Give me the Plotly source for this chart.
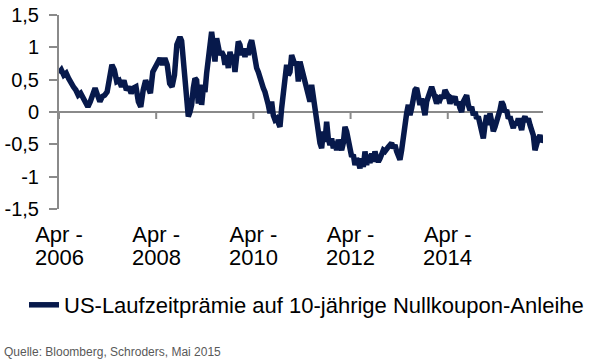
import plotly.graph_objects as go

# --- data ---
# segment A: early part, sampled more coarsely
seg_a_start = 2006.25
seg_a_step = 0.0495
seg_a_vals = [0.60, 0.65, 0.57, 0.60, 0.52, 0.44, 0.39, 0.34, 0.26, 0.29,
              0.21, 0.13, 0.08, 0.16, 0.29, 0.37, 0.26, 0.16, 0.24, 0.26,
              0.31, 0.57, 0.73, 0.65, 0.47, 0.49, 0.39, 0.49, 0.34, 0.39,
              0.29, 0.37, 0.39, 0.16, 0.08, 0.34, 0.49, 0.39, 0.29, 0.62,
              0.70, 0.78, 0.83, 0.73, 0.83, 0.73, 0.44, 0.39, 0.57, 1.04]

# segment B: 2008 - 2011
seg_b_start = 2008.705
seg_step = 0.0343
seg_b_vals = [1.14, 1.16, 1.10, 0.83, 0.47, 0.16, -0.07, 0.00, 0.11, 0.37,
              0.52, 0.49, 0.13, 0.42, 0.11, 0.37, 0.31, 0.60, 0.88, 1.19,
              1.24, 1.04, 0.78, 1.14, 0.98, 0.88, 0.93, 0.88, 0.73, 0.88,
              0.68, 0.93, 0.83, 0.88, 0.62, 0.93, 1.09, 1.04, 0.88, 0.98,
              0.85, 0.98, 0.88, 1.04, 1.11, 0.98, 0.78, 0.68, 0.62, 0.52,
              0.44, 0.37, 0.31, 0.24, 0.11, -0.02, 0.16, -0.05, -0.12, -0.10,
              -0.20, -0.23, 0.06, 0.31, 0.68, 0.73, 0.57, 0.62, 0.88, 0.78]

# segment C: 2011 - 2013
seg_c_vals = [0.73, 0.78, 0.47, 0.78, 0.68, 0.57, 0.44, 0.37, 0.24, 0.16,
              0.42, 0.24, 0.11, -0.10, -0.36, -0.48, -0.56, -0.30, -0.46, -0.15,
              -0.41, -0.51, -0.41, -0.56, -0.46, -0.59, -0.43, -0.51, -0.59, -0.48,
              -0.23, -0.30, -0.46, -0.61, -0.69, -0.66, -0.82, -0.72, -0.77, -0.87,
              -0.72, -0.85, -0.61, -0.82, -0.66, -0.79, -0.64, -0.77, -0.61, -0.72,
              -0.77, -0.72, -0.66, -0.59, -0.61, -0.56, -0.54, -0.51, -0.48, -0.56,
              -0.51, -0.61, -0.69, -0.74, -0.59, -0.36, -0.25, -0.02, 0.11, -0.05,
              0.06, 0.26]

# segment D: 2013 - end
seg_d_vals = [0.34, 0.37, 0.16, 0.11, 0.21, 0.00, -0.05, 0.16, 0.24, 0.34,
              0.39, 0.31, 0.16, 0.13, 0.21, 0.19, 0.26, 0.21, 0.34, 0.29,
              0.24, 0.13, 0.21, 0.19, 0.24, 0.11, 0.16, 0.06, 0.00, 0.16,
              0.24, 0.26, 0.11, 0.03, 0.08, -0.05, 0.00, -0.10, -0.07, -0.20,
              -0.30, -0.41, -0.20, -0.05, -0.20, -0.02, -0.15, -0.30, -0.23, -0.15,
              -0.07, 0.03, 0.16, 0.11, 0.00, 0.03, -0.10, -0.07, -0.17, -0.25,
              -0.15, -0.20, -0.10, -0.20, -0.28, -0.12, -0.07, -0.15, -0.10, -0.20,
              -0.30, -0.36, -0.59, -0.46, -0.41, -0.36, -0.46, -0.43]

x_range = [2006.25, 2016.21]
x_tick_vals = [2006.25, 2008.25, 2010.25, 2012.25, 2014.25]
x_tick_month = ["Apr -", "Apr -", "Apr -", "Apr -", "Apr -"]
x_tick_year = ["2006", "2008", "2010", "2012", "2014"]
y_tick_vals = [-1.5, -1.0, -0.5, 0.0, 0.5, 1.0, 1.5]
y_tick_text = ["-1,5", "-1", "-0,5", "0", "0,5", "1", "1,5"]

series_name = "US-Laufzeitprämie auf 10-jährige Nullkoupon-Anleihe"
source_text = "Quelle: Bloomberg, Schroders, Mai 2015"

# --- build x positions ---
xa = [seg_a_start + i * seg_a_step for i in range(len(seg_a_vals))]
bcd = seg_b_vals + seg_c_vals + seg_d_vals
xb = [seg_b_start + i * seg_step for i in range(len(bcd))]
x = xa + xb
y = seg_a_vals + bcd

NAVY = "#07194b"
GRAY = "#8a8a8a"
FONT = "Liberation Sans, Arial, sans-serif"

fig = go.Figure()
fig.add_trace(go.Scatter(x=x, y=y, mode="lines", name=series_name,
                         line=dict(color=NAVY, width=5.5)))

fig.update_layout(
    width=604, height=360,
    margin=dict(l=59, r=61, t=15, b=151, autoexpand=False),
    plot_bgcolor="white", paper_bgcolor="white",
    font=dict(family=FONT, size=21, color="black"),
    showlegend=True,
    legend=dict(x=-35/484, y=-(305-209)/194,
                xanchor="left", yanchor="middle", font=dict(size=22),
                bgcolor="rgba(0,0,0,0)"),
    # bottom axis: month part of the category labels
    xaxis=dict(range=x_range, showgrid=False, zeroline=False, showline=False,
               ticks="", tickvals=x_tick_vals, ticktext=x_tick_month,
               ticklabelstandoff=10,
               tickfont=dict(size=22, color="black")),
    # horizontal axis line crossing at y = 0
    yaxis=dict(range=[-1.5, 1.5], showgrid=False,
               zeroline=True, zerolinecolor=GRAY, zerolinewidth=2,
               showline=True, linecolor=GRAY, linewidth=2,
               ticks="outside", ticklen=8, tickwidth=2, tickcolor=GRAY,
               tickvals=y_tick_vals, ticktext=y_tick_text,
               ticklabelstandoff=6,
               tickfont=dict(size=20, color="black")),
)
# tick marks on the axis line at y = 0 (pointing down)
for tv in x_tick_vals:
    fig.add_shape(type="line", xref="x", yref="y", x0=tv, x1=tv,
                  ysizemode="pixel", yanchor=0, y0=0, y1=-7,
                  line=dict(color=GRAY, width=2), layer="below")
# second line of the category labels (year), placed on the x scale
for tv, yr in zip(x_tick_vals, x_tick_year):
    fig.add_annotation(text=yr, xref="x", yref="paper", x=tv, y=-(257 - 209)/194,
                       xanchor="center", yanchor="middle", showarrow=False,
                       font=dict(size=22, color="black"))
fig.add_annotation(text=source_text, xref="paper", yref="paper",
                   x=-57/484, y=-(352-209)/194, xanchor="left", yanchor="middle",
                   showarrow=False, font=dict(size=12, color="#595959"))
fig.write_html("out.html", config={"displayModeBar": False},
               post_script="document.body.style.margin='0';document.body.style.overflow='hidden';")
